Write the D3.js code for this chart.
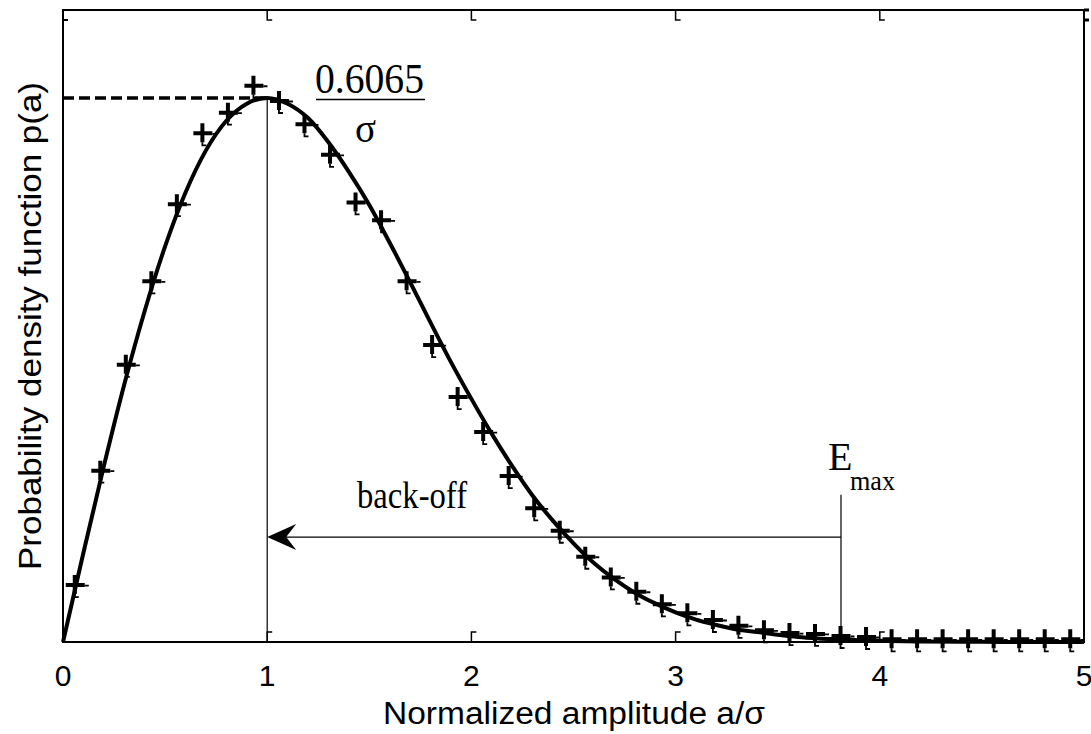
<!DOCTYPE html>
<html>
<head>
<meta charset="utf-8">
<script src="https://cdn.jsdelivr.net/npm/d3@7"></script>
<style>
  body { margin: 0; background: #fff; }
  svg { display: block; }
</style>
</head>
<body>
<div id="chart"></div>
<script>
// Parameters
var width  = 1091,
    height = 734;

// curve: p(a)
var curveA = [0, 0.1, 0.2, 0.3, 0.4, 0.5, 0.6, 0.7, 0.8, 0.9, 1.0, 1.1, 1.2, 1.3, 1.4, 1.5,
              1.6, 1.7, 1.8, 1.9, 2.0, 2.1, 2.2, 2.3, 2.4, 2.5, 2.6, 2.7, 2.8, 2.9, 3.0,
              3.1, 3.2, 3.3, 3.4, 3.5, 3.6, 3.7, 3.8, 3.9, 4.0, 4.2, 4.4, 4.6, 4.8, 5.0];
var curveP = [0, 0.0995, 0.196, 0.287, 0.369, 0.441, 0.501, 0.548, 0.581, 0.600, 0.6065, 0.600,
              0.584, 0.557, 0.524, 0.487, 0.445, 0.401, 0.356, 0.312, 0.271, 0.232, 0.196,
              0.163, 0.135, 0.110, 0.088, 0.070, 0.055, 0.043, 0.033, 0.025, 0.019, 0.014,
              0.011, 0.008, 0.0055, 0.004, 0.003, 0.002, 0.0013, 0.0006, 0.0003, 0.0001, 0, 0];

// histogram markers (+)
var binA = [0.0625, 0.1875, 0.3125, 0.4375, 0.5625, 0.6875, 0.8125, 0.9375, 1.0625, 1.1875,
            1.3125, 1.4375, 1.5625, 1.6875, 1.8125, 1.9375, 2.0625, 2.1875, 2.3125, 2.4375,
            2.5625, 2.6875, 2.8125, 2.9375, 3.0625, 3.1875, 3.3125, 3.4375, 3.5625, 3.6875,
            3.8125, 3.9375, 4.0625, 4.1875, 4.3125, 4.4375, 4.5625, 4.6875, 4.8125, 4.9375];
var binP = [0.0635, 0.191, 0.309, 0.402, 0.488, 0.567, 0.590, 0.620, 0.603, 0.577,
            0.543, 0.490, 0.470, 0.402, 0.331, 0.273, 0.234, 0.185, 0.149, 0.124,
            0.095, 0.072, 0.056, 0.042, 0.032, 0.0245, 0.018, 0.013, 0.010, 0.009,
            0.0067, 0.0056, 0.003, 0.003, 0.003, 0.003, 0.003, 0.003, 0.003, 0.003];

var xTicks = [0, 1, 2, 3, 4, 5];

// annotation values
var peakA = 1, peakP = 0.6065;
var emaxA = 3.81, arrowP = 0.117, emaxTopP = 0.164;

var sans  = "'Liberation Sans', Arial, sans-serif";
var serif = "'Liberation Serif', 'Times New Roman', serif";

var svg = d3.select("#chart")
    .append("svg")
    .attr("width", width)
    .attr("height", height);

var x = d3.scaleLinear().domain([0, 5]).range([63, 1084]);
var y = d3.scaleLinear().domain([0, 0.7]).range([642, 14]);

// frame
svg.append("rect")
    .attr("x", 63).attr("y", 10)
    .attr("width", 1084 - 63).attr("height", 642 - 10)
    .attr("fill", "none").attr("stroke", "#000").attr("stroke-width", 2);

// little inward ticks (top and bottom)
var inner = xTicks.slice(1, 5);
svg.selectAll(".ttick").data(inner).enter().append("path")
    .attr("d", d => "M" + x(d) + ",10V20h5")
    .attr("fill", "none").attr("stroke", "#000").attr("stroke-width", 1.5);
svg.selectAll(".btick").data(inner).enter().append("path")
    .attr("d", d => "M" + x(d) + ",642V632h5")
    .attr("fill", "none").attr("stroke", "#000").attr("stroke-width", 1.5);
svg.append("path").attr("d", "M63,20h5").attr("stroke", "#000").attr("stroke-width", 2);
svg.append("path").attr("d", "M1084,10h5M1084,20h5").attr("stroke", "#000").attr("stroke-width", 3);

// x tick labels
svg.selectAll(".xl").data(xTicks).enter().append("text")
    .attr("x", d => x(d))
    .attr("y", 686)
    .attr("text-anchor", "middle")
    .attr("font-family", sans)
    .attr("font-size", 30)
    .text(d => d);

// axis titles (the picture is stretched, so widths are set)
svg.append("text")
    .attr("x", 383).attr("y", 724)
    .attr("font-family", sans).attr("font-size", 31)
    .attr("textLength", 382).attr("lengthAdjust", "spacingAndGlyphs")
    .text("Normalized amplitude a/σ");

svg.append("text")
    .attr("transform", "translate(41,570) rotate(-90)")
    .attr("font-family", sans).attr("font-size", 32)
    .attr("textLength", 488).attr("lengthAdjust", "spacingAndGlyphs")
    .text("Probability density function p(a)");

// peak guides
svg.append("line")
    .attr("x1", x(0)).attr("x2", x(peakA))
    .attr("y1", y(peakP)).attr("y2", y(peakP))
    .attr("stroke", "#000").attr("stroke-width", 3.5)
    .attr("stroke-dasharray", "11,5");
svg.append("line")
    .attr("x1", x(peakA)).attr("x2", x(peakA))
    .attr("y1", y(peakP)).attr("y2", y(0))
    .attr("stroke", "#000").attr("stroke-width", 1.2);

// Emax line and back-off arrow
svg.append("line")
    .attr("x1", x(emaxA)).attr("x2", x(emaxA))
    .attr("y1", y(emaxTopP)).attr("y2", y(0))
    .attr("stroke", "#000").attr("stroke-width", 1.2);
svg.append("line")
    .attr("x1", x(emaxA)).attr("x2", x(peakA) + 10)
    .attr("y1", y(arrowP)).attr("y2", y(arrowP))
    .attr("stroke", "#000").attr("stroke-width", 1.2);
var ax = x(peakA), ay = y(arrowP);
svg.append("path")
    .attr("d", "M" + ax + "," + ay + "l29,-13l-10,13l10,13z")
    .attr("fill", "#000");

// curve
var line = d3.line()
    .x((d, i) => x(curveA[i]))
    .y(d => y(d))
    .curve(d3.curveMonotoneX);
svg.append("path")
    .datum(curveP)
    .attr("d", line)
    .attr("fill", "none")
    .attr("stroke", "#000")
    .attr("stroke-width", 4)
    .attr("stroke-linejoin", "round");

// + markers
var marks = svg.selectAll(".mk").data(binP).enter().append("g")
    .attr("transform", (d, i) => "translate(" + x(binA[i]) + "," + y(d) + ")");
marks.append("path")
    .attr("d", "M-10,0H9M-1,-10V9")
    .attr("stroke", "#000").attr("stroke-width", 4).attr("fill", "none");
marks.append("path")
    .attr("d", "M9,0.5H13M-1,9V12H3")
    .attr("stroke", "#000").attr("stroke-width", 1.8).attr("fill", "none");

// texts
svg.append("text")
    .attr("x", 315).attr("y", 93)
    .attr("font-family", serif).attr("font-size", 42)
    .attr("textLength", 109).attr("lengthAdjust", "spacingAndGlyphs")
    .text("0.6065");
svg.append("line")
    .attr("x1", 316).attr("x2", 425).attr("y1", 99.5).attr("y2", 99.5)
    .attr("stroke", "#000").attr("stroke-width", 1.5);
svg.append("text")
    .attr("x", 355).attr("y", 142)
    .attr("font-family", serif).attr("font-size", 42)
    .attr("textLength", 21).attr("lengthAdjust", "spacingAndGlyphs")
    .text("σ");

svg.append("text")
    .attr("x", 357).attr("y", 508)
    .attr("font-family", serif).attr("font-size", 37)
    .attr("textLength", 110).attr("lengthAdjust", "spacingAndGlyphs")
    .text("back-off");

svg.append("text")
    .attr("x", 828).attr("y", 470)
    .attr("font-family", serif).attr("font-size", 40)
    .text("E");
svg.append("text")
    .attr("x", 850).attr("y", 490)
    .attr("font-family", serif).attr("font-size", 28)
    .attr("textLength", 45).attr("lengthAdjust", "spacingAndGlyphs")
    .text("max");
</script>
</body>
</html>
